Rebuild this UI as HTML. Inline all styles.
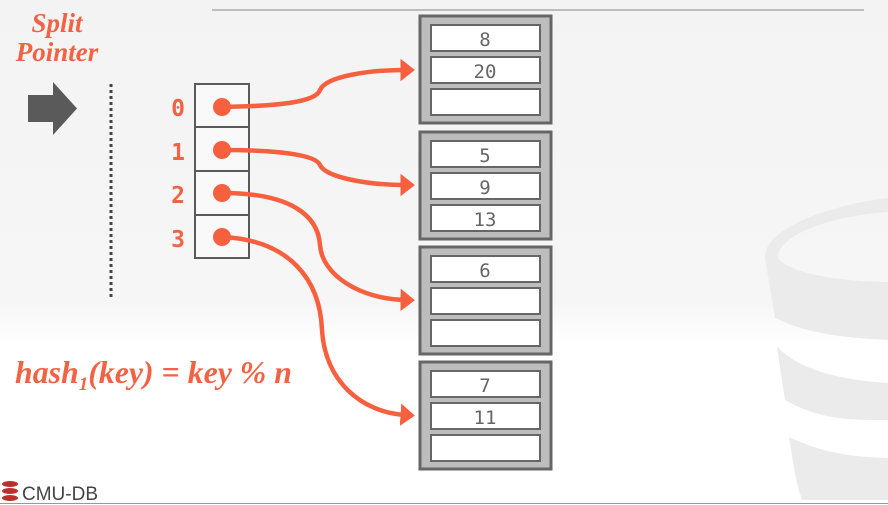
<!DOCTYPE html>
<html><head><meta charset="utf-8"><style>
html,body{margin:0;padding:0;}
body{width:888px;height:505px;overflow:hidden;position:relative;background:#fff;font-family:"Liberation Sans",sans-serif;}
</style></head><body>
<svg width="888" height="505" viewBox="0 0 888 505" xmlns="http://www.w3.org/2000/svg" style="position:absolute;left:0;top:0">
<defs>
<linearGradient id="bg" x1="0" y1="0" x2="0" y2="1">
<stop offset="0" stop-color="#f3f3f3"/><stop offset="0.6" stop-color="#f6f6f6"/><stop offset="0.68" stop-color="#ffffff"/><stop offset="1" stop-color="#ffffff"/>
</linearGradient>
<marker id="ah" markerWidth="5" markerHeight="5" refX="1" refY="2.5" orient="auto" markerUnits="strokeWidth">
<path d="M0,0 L3.2,2.5 L0,5 Z" fill="#f6603f"/>
</marker>
</defs>
<rect width="888" height="505" fill="url(#bg)"/>
<!-- watermark bucket -->
<g fill="#ebebeb">
<path d="M765,258 C764,228 830,205 888,198 L888,212 C840,215 778,232 778,258 C790,275 850,282 888,282 L888,340 C850,338 810,335 775,318 Z"/>
<path d="M777,347 C800,370 840,380 888,383 L888,420 C850,420 820,420 785,400 Z"/>
<path d="M789,437 C820,452 850,457 888,458 L888,500 L802,500 C795,480 793,460 789,437 Z"/>
</g>
<line x1="212" y1="10" x2="864" y2="10" stroke="#bdbdbd" stroke-width="2"/>
<line x1="0" y1="503.5" x2="888" y2="503.5" stroke="#999" stroke-width="1"/>
<!-- Split pointer -->
<text x="57" y="32" text-anchor="middle" font-family="Liberation Serif,serif" font-style="italic" font-weight="bold" font-size="27" fill="#f26346">Split</text>
<text x="57" y="61" text-anchor="middle" font-family="Liberation Serif,serif" font-style="italic" font-weight="bold" font-size="27" fill="#f26346">Pointer</text>
<path d="M28,95 L53,95 L53,82 L77,108.5 L53,135 L53,122 L28,122 Z" fill="#5a5a5a"/>
<line x1="111" y1="84" x2="111" y2="300" stroke="#444" stroke-width="3" stroke-dasharray="3,3"/>
<!-- directory -->
<g stroke="#5a5a5a" stroke-width="2" fill="#f9f9f9">
<rect x="195" y="84" width="54" height="43"/>
<rect x="195" y="127" width="54" height="44"/>
<rect x="195" y="171" width="54" height="44"/>
<rect x="195" y="215" width="54" height="43"/>
</g>
<g font-family="DejaVu Sans Mono,monospace" font-weight="bold" font-size="23" fill="#f26346" text-anchor="middle">
<text x="178" y="116">0</text><text x="178" y="160">1</text><text x="178" y="203">2</text><text x="178" y="247">3</text>
</g>
<!-- curves -->
<g fill="none" stroke="#f6603f" stroke-width="4.5">
<path d="M222,107 C280,106 316,102 320,90 C326,76 370,70 405,70" marker-end="url(#ah)"/>
<path d="M222,150 C280,150 316,155 320,165 C326,178 370,185 405,185" marker-end="url(#ah)"/>
<path d="M222,193 C290,193 318,215 320,245 C322,275 360,299 405,300" marker-end="url(#ah)"/>
<path d="M222,237 C290,240 320,280 322,330 C325,380 360,412 405,415" marker-end="url(#ah)"/>
</g>
<g fill="#f6603f">
<circle cx="222" cy="107" r="9"/><circle cx="222" cy="150" r="9"/><circle cx="222" cy="193" r="9"/><circle cx="222" cy="237" r="9"/>
</g>
<g stroke="#666" stroke-width="3" fill="#bdbdbd">
<rect x="420" y="16" width="131" height="107"/>
<rect x="420" y="132" width="131" height="107"/>
<rect x="420" y="247" width="131" height="107"/>
<rect x="420" y="362" width="131" height="107"/>
</g>
<g stroke="#666" stroke-width="2" fill="#fff">
<rect x="431" y="25" width="109" height="26"/><rect x="431" y="57" width="109" height="26"/><rect x="431" y="89" width="109" height="26"/>
<rect x="431" y="141" width="109" height="26"/><rect x="431" y="173" width="109" height="26"/><rect x="431" y="205" width="109" height="26"/>
<rect x="431" y="256" width="109" height="26"/><rect x="431" y="288" width="109" height="26"/><rect x="431" y="320" width="109" height="26"/>
<rect x="431" y="371" width="109" height="26"/><rect x="431" y="403" width="109" height="26"/><rect x="431" y="435" width="109" height="26"/>
</g>
<g font-family="DejaVu Sans Mono,monospace" font-size="19" fill="#666" text-anchor="middle">
<text x="485" y="46">8</text><text x="485" y="78">20</text>
<text x="485" y="162">5</text><text x="485" y="194">9</text><text x="485" y="226">13</text>
<text x="485" y="277">6</text>
<text x="485" y="392">7</text><text x="485" y="424">11</text>
</g>
<!-- formula -->
<text x="15" y="383" font-family="Liberation Serif,serif" font-style="italic" font-weight="bold" font-size="32" fill="#f26346" textLength="277" lengthAdjust="spacingAndGlyphs">hash<tspan font-size="19" dy="7">1</tspan><tspan dy="-7">(key) = key % n</tspan></text>
<!-- logo -->
<g fill="#b8322a">
<ellipse cx="10" cy="484" rx="8" ry="3"/><ellipse cx="10" cy="491" rx="8" ry="3"/><ellipse cx="10" cy="498" rx="8" ry="3"/>
</g>
<text x="22" y="500" font-family="Liberation Sans,sans-serif" font-size="19" fill="#444">CMU-DB</text>
</svg>
</body></html>
